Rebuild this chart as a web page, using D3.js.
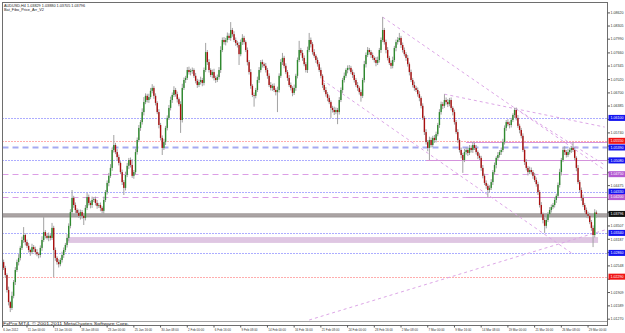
<!DOCTYPE html>
<html>
<head>
<meta charset="utf-8">
<script src="https://cdn.jsdelivr.net/npm/d3@7"></script>
<style>
  body { margin: 0; background: #fff; }
  text { font-family: "Liberation Sans", Arial, sans-serif; }
</style>
</head>
<body>
<svg id="chart" width="625" height="333"></svg>
<script>
// AUDUSD H4 closes
const closes = [
  1.0250,1.0233,1.0197,1.0168,1.0154,1.0183,1.0216,1.0245,1.0264,1.0274,
  1.0298,1.0317,1.0329,1.0312,1.0303,1.0293,1.0288,1.0300,1.0295,1.0288,
  1.0283,1.0281,1.0298,1.0317,1.0336,1.0327,1.0322,1.0327,1.0322,1.0346,
  1.0293,1.0274,1.0264,1.0259,1.0269,1.0281,1.0293,1.0305,1.0322,1.0351,
  1.0384,1.0418,1.0401,1.0389,1.0382,1.0375,1.0384,1.0375,1.0370,1.0394,
  1.0420,1.0406,1.0401,1.0413,1.0415,1.0406,1.0399,1.0401,1.0394,1.0387,
  1.0413,1.0432,1.0454,1.0471,1.0490,1.0533,1.0545,1.0528,1.0516,1.0502,
  1.0480,1.0456,1.0442,1.0473,1.0495,1.0509,1.0497,1.0471,1.0480,1.0528,
  1.0557,1.0586,1.0600,1.0624,1.0648,1.0663,1.0653,1.0660,1.0675,1.0682,
  1.0663,1.0646,1.0624,1.0593,1.0562,1.0538,1.0552,1.0586,1.0610,1.0634,
  1.0653,1.0665,1.0677,1.0667,1.0655,1.0643,1.0605,1.0682,1.0701,1.0706,
  1.0725,1.0720,1.0723,1.0725,1.0711,1.0699,1.0689,1.0696,1.0701,1.0694,
  1.0725,1.0768,1.0744,1.0725,1.0713,1.0720,1.0706,1.0701,1.0708,1.0725,
  1.0773,1.0797,1.0792,1.0797,1.0807,1.0802,1.0821,1.0811,1.0797,1.0790,
  1.0785,1.0763,1.0792,1.0802,1.0792,1.0773,1.0744,1.0720,1.0687,1.0665,
  1.0663,1.0677,1.0701,1.0725,1.0744,1.0739,1.0735,1.0725,1.0711,1.0689,
  1.0682,1.0687,1.0677,1.0672,1.0677,1.0711,1.0744,1.0754,1.0735,1.0720,
  1.0706,1.0689,1.0682,1.0670,1.0682,1.0711,1.0749,1.0773,1.0766,1.0754,
  1.0739,1.0725,1.0773,1.0797,1.0787,1.0768,1.0759,1.0749,1.0739,1.0725,
  1.0711,1.0689,1.0677,1.0667,1.0658,1.0648,1.0634,1.0629,1.0624,1.0629,
  1.0624,1.0653,1.0677,1.0701,1.0711,1.0725,1.0730,1.0730,1.0720,1.0713,
  1.0701,1.0689,1.0682,1.0672,1.0663,1.0701,1.0739,1.0761,1.0773,1.0768,
  1.0761,1.0754,1.0749,1.0742,1.0749,1.0773,1.0797,1.0821,1.0792,1.0773,
  1.0754,1.0742,1.0735,1.0749,1.0778,1.0792,1.0797,1.0802,1.0785,1.0773,
  1.0763,1.0754,1.0739,1.0720,1.0701,1.0689,1.0682,1.0677,1.0667,1.0658,
  1.0639,1.0610,1.0576,1.0552,1.0538,1.0557,1.0545,1.0562,1.0557,1.0571,
  1.0593,1.0624,1.0643,1.0639,1.0653,1.0648,1.0643,1.0653,1.0634,1.0624,
  1.0600,1.0576,1.0557,1.0533,1.0521,1.0509,1.0528,1.0533,1.0526,1.0538,
  1.0533,1.0545,1.0538,1.0528,1.0519,1.0514,1.0490,1.0471,1.0454,1.0447,
  1.0437,1.0442,1.0456,1.0480,1.0497,1.0514,1.0521,1.0528,1.0533,1.0552,
  1.0586,1.0600,1.0595,1.0593,1.0605,1.0617,1.0629,1.0610,1.0591,1.0581,
  1.0567,1.0533,1.0504,1.0490,1.0480,1.0485,1.0480,1.0471,1.0461,1.0451,
  1.0432,1.0401,1.0379,1.0365,1.0351,1.0365,1.0379,1.0389,1.0396,1.0401,
  1.0413,1.0423,1.0449,1.0480,1.0509,1.0533,1.0528,1.0521,1.0528,1.0533,
  1.0538,1.0533,1.0514,1.0490,1.0456,1.0437,1.0418,1.0401,1.0389,1.0379,
  1.0375,1.0360,1.0346,1.0329,1.03829,1.03796
];
const firstOpen = 1.0264;

// upper / lower shadows in pips
const wickUp = [
  6,5,4,8,3,10,5,7,6,9, 5,8,19,4,6,7,3,8,5,6, 7,4,6,9,36,5,6,8,4,12,
  5,6,4,7,5,8,6,5,9,6, 7,19,5,6,4,8,6,5,3,7, 10,6,5,8,4,6,7,5,6,4,
  8,5,6,7,9,6,24,5,7,6, 4,6,5,8,7,5,6,14,5,8, 6,7,5,9,12,6,5,8,7,9,
  5,6,4,7,5,6,8,5,6,7, 8,6,9,5,6,4,7,10,6,5, 7,8,5,6,4,7,5,6,8,5,
  6,22,5,7,4,6,8,5,6,7, 9,6,7,5,8,6,19,5,7,6, 5,7,6,9,5,4,6,5,7,4,
  6,5,8,7,5,6,4,7,5,6, 7,5,6,4,8,6,7,12,5,6, 5,7,6,4,8,5,6,22,5,7,
  6,5,8,17,6,5,7,4,6,5, 6,4,5,7,5,6,4,5,8,6, 5,7,6,5,8,4,6,7,5,6,
  6,5,7,4,6,5,8,6,7,5, 5,6,4,7,8,5,6,31,5,6, 7,5,6,8,5,6,7,12,5,6,
  6,5,7,4,6,5,8,5,6,7, 4,6,5,7,5,8,6,5,7,6, 5,7,6,5,14,6,7,5,6,4,
  6,5,7,4,6,5,8,6,5,7, 6,8,5,7,4,6,5,7,5,6, 5,6,7,5,6,4,7,5,6,8,
  6,5,7,6,5,4,5,6,7,5, 5,6,4,7,5,8,6,5,7,6, 6,5,7,4,6,8,5,7,6,5,
  7,5,6,8,5,6,9,5,7,6, 5,14,6,4,7,5,6,8,5,6, 6,7,5,6,8,5
];
const wickDn = [
  5,7,6,8,10,5,6,7,5,8, 6,5,7,8,5,6,9,5,7,6, 5,8,6,7,5,6,4,8,6,5,
  65,7,6,8,5,6,7,5,6,8, 6,5,7,8,6,5,9,7,17,6, 5,6,8,7,5,6,7,5,8,6,
  7,5,6,8,5,7,6,5,8,6, 5,7,17,6,5,8,6,5,7,6, 6,5,7,6,8,5,6,7,5,6,
  7,6,5,8,6,17,5,7,6,5, 6,7,5,6,8,5,31,6,5,7, 5,6,8,7,5,6,7,5,6,8,
  6,5,7,6,5,8,6,7,5,6, 7,5,6,8,6,5,7,6,5,7, 6,26,5,7,6,5,8,6,7,5,
  26,6,5,7,6,8,5,6,7,5, 6,7,5,8,48,6,5,7,6,5, 7,5,6,8,5,7,6,5,6,7,
  5,6,7,5,8,6,5,7,6,5, 6,7,5,6,8,5,24,6,7,5, 29,6,5,7,6,5,8,6,5,7,
  6,5,7,6,14,5,6,8,5,6, 7,5,6,8,5,6,7,5,6,8, 6,5,7,6,5,8,6,5,7,6,
  5,7,6,8,5,6,7,5,6,8, 6,5,7,6,8,29,6,5,7,6, 5,7,6,8,5,6,7,5,6,8,
  6,5,7,6,8,31,5,6,7,5, 6,7,5,6,8,5,7,6,5,7, 17,6,5,7,6,8,5,6,7,5,
  6,7,5,8,6,5,7,6,5,8, 6,5,7,6,8,5,6,7,5,6, 7,6,5,8,17,6,5,7,6,5,
  6,7,5,6,8,5,7,6,5,6, 7,5,6,8,5,6,7,5,6,8, 6,5,7,29,6,9
];

const priceTicks = [
  "1.08620","1.08305","1.07990","1.07660","1.07345","1.07020","1.06700","1.06385",
  "1.06063","1.05740","1.05424","1.05105","1.04785","1.04475","1.04146","1.03826",
  "1.03507","1.03187","1.02868","1.02548","1.02229","1.01909","1.01589","1.01270"
];
const timeLabels = [
  "6 Jan 2012","11 Jan 00:00","13 Jan 16:00","18 Jan 08:00","23 Jan 00:00","25 Jan 16:00",
  "30 Jan 08:00","2 Feb 00:00","6 Feb 16:00","9 Feb 08:00","14 Feb 00:00","16 Feb 16:00",
  "21 Feb 08:00","24 Feb 00:00","28 Feb 16:00","2 Mar 08:00","7 Mar 00:00","9 Mar 16:00",
  "14 Mar 08:00","19 Mar 00:00","21 Mar 16:00","26 Mar 08:00","29 Mar 00:00"
];
const timeBars = [0,14,30,46,62,78,94,110,126,142,158,174,190,206,222,238,254,270,286,302,318,334,350];

// horizontal objects
const blueDotted = [1.0610, 1.0508, 1.0433, 1.0334, 1.0286];
const redDotted = [1.0555, 1.0229];
const blueDashed = [1.0539];
const violetDashed = [1.0475, 1.0420];
const violetSolid = [[277, 1.0552], [253, 1.0508], [277, 1.0420]];
const greyZone = [1.0372, 1.0380];
const violetZone = [38, 1.0310, 356, 1.0324];
// trend lines: bar1, price1, bar2, price2
const trendLines = [
  [227, 1.0852, 360, 1.0485],
  [264, 1.0667, 360, 1.0588],
  [306, 1.0634, 360, 1.0497],
  [191, 1.0701, 340, 1.0286],
  [183, 1.0125, 360, 1.0341]
];
const bid = 1.03796;

const W = 625, H = 333;
const pL = 2.5, pR = 607.5, pT = 2.5, pB = 325.5;
const svg = d3.select("#chart");

const x = d3.scaleLinear().domain([0, closes.length - 1]).range([3.6, 596.4]);
const y = d3.scaleLinear().domain([1.0125, 1.0893]).range([320, 0]);

const fmt = d3.format(".5f");

svg.append("defs").append("clipPath").attr("id", "plot")
  .append("rect").attr("x", pL).attr("y", pT)
  .attr("width", pR - pL).attr("height", pB - pT);

const plot = svg.append("g").attr("clip-path", "url(#plot)");

// zones
plot.append("rect")
  .attr("x", x(violetZone[0])).attr("width", x(violetZone[2]) - x(violetZone[0]))
  .attr("y", y(violetZone[3])).attr("height", y(violetZone[1]) - y(violetZone[3]))
  .attr("fill", "#dfc6e2");
plot.append("rect")
  .attr("x", pL).attr("width", pR - pL)
  .attr("y", y(greyZone[1])).attr("height", y(greyZone[0]) - y(greyZone[1]))
  .attr("fill", "#aaa4a4").attr("stroke", "#8e8888").attr("stroke-width", 0.6);

function hline(p, color, dash, w, x0) {
  plot.append("line")
    .attr("x1", x0 === undefined ? pL : x0).attr("x2", pR)
    .attr("y1", Math.round(y(p)) + 0.5).attr("y2", Math.round(y(p)) + 0.5)
    .attr("stroke", color).attr("stroke-width", w)
    .attr("stroke-dasharray", dash);
}
blueDotted.forEach(p => hline(p, "#5a5aff", "1,2", 1));
redDotted.forEach(p => hline(p, "#ff5a5a", "1,2", 1));
blueDashed.forEach(p => hline(p, "#a4aaf2", "6,4", 2));
violetDashed.forEach(p => hline(p, "#dc9ee6", "6,4", 1));
violetSolid.forEach(d => hline(d[1], "#d492dc", null, 1.1, x(d[0])));

trendLines.forEach(d => {
  plot.append("line")
    .attr("x1", x(d[0])).attr("y1", y(d[1]))
    .attr("x2", x(d[2])).attr("y2", y(d[3]))
    .attr("stroke", "#dca6e6").attr("stroke-width", 1)
    .attr("stroke-dasharray", "3,3");
});

// candles
const bars = closes.map((c, i) => {
  const o = i === 0 ? firstOpen : closes[i - 1];
  return {
    i, o, c,
    h: Math.max(o, c) + wickUp[i] / 10000,
    l: Math.min(o, c) - wickDn[i] / 10000
  };
});

const cg = plot.append("g");
cg.selectAll("line.wick").data(bars).join("line")
  .attr("class", "wick")
  .attr("x1", d => x(d.i)).attr("x2", d => x(d.i))
  .attr("y1", d => y(d.h)).attr("y2", d => y(d.l))
  .attr("stroke", "#a2a2a2").attr("stroke-width", 1);
cg.selectAll("rect.body").data(bars).join("rect")
  .attr("class", "body")
  .attr("x", d => x(d.i) - 0.7).attr("width", 1.4)
  .attr("y", d => y(Math.max(d.o, d.c)))
  .attr("height", d => Math.max(0.6, Math.abs(y(d.o) - y(d.c))))
  .attr("fill", d => d.c >= d.o ? "#2f8a2f" : "#a81010");

// copyright inside the window, above the bottom edge
svg.append("line").attr("x1", pL).attr("x2", pR).attr("y1", 321.5).attr("y2", 321.5)
  .attr("stroke", "#8a8a8a").attr("stroke-width", 0.8);
svg.append("text").attr("x", 3).attr("y", 324.9).attr("font-size", 3.8).attr("fill", "#222")
  .attr("textLength", 126).attr("lengthAdjust", "spacingAndGlyphs")
  .text("FxPro MT4, \u00a9 2001-2011 MetaQuotes Software Corp.");

// frame
svg.append("rect").attr("x", pL).attr("y", pT)
  .attr("width", pR - pL).attr("height", pB - pT)
  .attr("fill", "none").attr("stroke", "#6e6e6e").attr("stroke-width", 1);

// level tags on the price scale
const tags = [];
blueDotted.forEach(p => tags.push([p, "#1414f0"]));
redDotted.forEach(p => tags.push([p, "#f01414"]));
blueDashed.forEach(p => tags.push([p, "#1414f0"]));
violetDashed.forEach(p => tags.push([p, "#b45ad2"]));
tags.push([bid, "#101010"]);

// price axis
const pa = svg.append("g");
priceTicks.forEach(t => {
  const yy = y(+t);
  pa.append("line").attr("x1", pR).attr("x2", pR + 2.5)
    .attr("y1", yy).attr("y2", yy).attr("stroke", "#555");
  const hidden = tags.some(d => Math.abs(y(d[0]) - yy) < 5);
  if (!hidden) {
    pa.append("text").attr("x", pR + 3).attr("y", yy + 1.3)
      .attr("font-size", 3.6).attr("fill", "#333").text(t);
  }
});

tags.forEach(d => {
  const yy = y(d[0]);
  pa.append("rect").attr("x", pR + 1).attr("y", yy - 3)
    .attr("width", W - pR - 1).attr("height", 6).attr("fill", d[1]);
  pa.append("text").attr("x", pR + 3).attr("y", yy + 1.3)
    .attr("font-size", 3.6).attr("fill", "#fff").text(fmt(d[0]));
});

// time axis
const ta = svg.append("g");
timeBars.forEach((b, k) => {
  const xx = k === 0 ? pL : x(b);
  ta.append("line").attr("x1", xx).attr("x2", xx)
    .attr("y1", pB).attr("y2", pB + 2).attr("stroke", "#555");
  ta.append("text").attr("x", xx + 0.8).attr("y", 330.5)
    .attr("font-size", 3).attr("fill", "#333").text(timeLabels[k]);
});

// header
svg.append("text").attr("x", 4).attr("y", 6.5).attr("font-size", 3.8).attr("fill", "#222")
  .text("AUDUSD,H4  1.03829 1.03880 1.03705 1.03796");
svg.append("text").attr("x", 4).attr("y", 11).attr("font-size", 3.8).attr("fill", "#222")
  .text("Bat_Fibo_Price_Arr_V2");
</script>
</body>
</html>
